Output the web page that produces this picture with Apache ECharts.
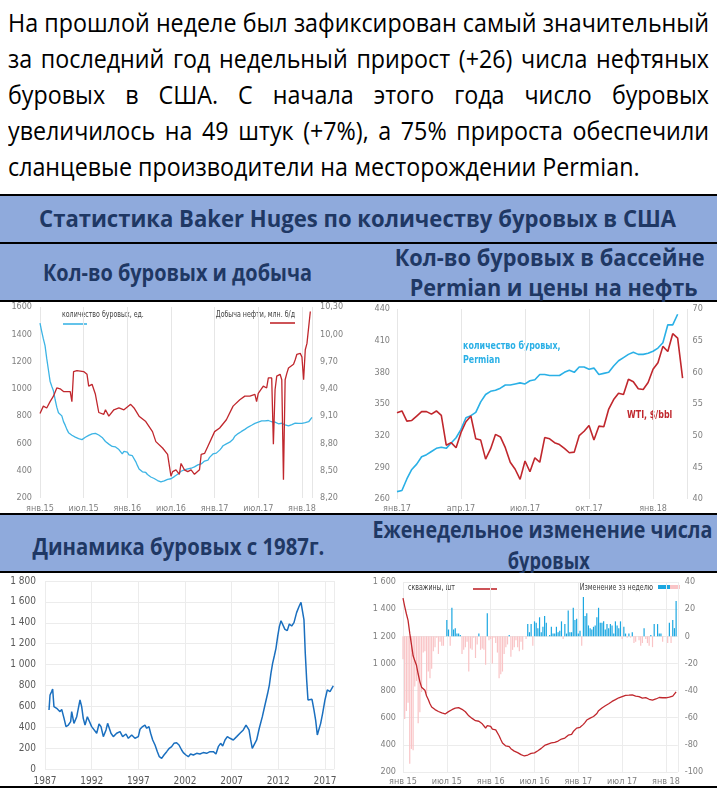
<!DOCTYPE html>
<html><head><meta charset="utf-8">
<script src="https://cdn.jsdelivr.net/npm/echarts@6/dist/echarts.min.js"></script>
<style>
html,body{margin:0;padding:0;background:#fff;}
#page{position:relative;width:717px;height:789px;overflow:hidden;font-family:'Open Sans','Noto Sans',sans-serif;}
.pl{position:absolute;left:8px;width:701px;height:36px;line-height:36px;white-space:nowrap;color:#000;text-align:justify;text-align-last:justify;transform-origin:0 0;font-size:26px;}
.pl.last{text-align:left;text-align-last:left;}
.rule{position:absolute;left:0;width:717px;height:2px;background:#000;}
.band{position:absolute;left:0;width:717px;background:#8faadc;}
.hd{position:absolute;white-space:nowrap;color:#1f3864;font-weight:bold;line-height:1;font-size:23px;transform-origin:50% 50%;}
.chart{position:absolute;background:#fff;}
</style></head><body>
<div id="page">
  <div class="pl" style="top:4px">На прошлой неделе был зафиксирован самый значительный</div>
  <div class="pl" style="top:40px">за последний год недельный прирост (+26) числа нефтяных</div>
  <div class="pl" style="top:76px">буровых в США. С начала этого года число буровых</div>
  <div class="pl" style="top:112px">увеличилось на 49 штук (+7%), а 75% прироста обеспечили</div>
  <div class="pl last" style="top:148px">сланцевые производители на месторождении Permian.</div>

  <div class="rule" style="top:194px"></div>
  <div class="band" style="top:196px;height:46px"></div>
  <div class="rule" style="top:242px"></div>
  <div class="band" style="top:244px;height:56px"></div>
  <div class="rule" style="top:300px"></div>
  <div class="rule" style="top:513px"></div>
  <div class="band" style="top:515px;height:56px"></div>
  <div class="rule" style="top:571px"></div>
  <div class="rule" style="top:786px"></div>

  <div class="hd" data-cx="358" data-cy="219" data-w="637">Статистика Baker Huges по количеству буровых в США</div>
  <div class="hd" data-cx="177" data-cy="273" data-w="269">Кол-во буровых и добыча</div>
  <div class="hd" data-cx="550" data-cy="258" data-w="310">Кол-во буровых в бассейне</div>
  <div class="hd" data-cx="554" data-cy="288" data-w="288">Permian и цены на нефть</div>
  <div class="hd" data-cx="178" data-cy="547" data-w="292">Динамика буровых с 1987г.</div>
  <div class="hd" data-cx="542" data-cy="530" data-w="340">Еженедельное изменение числа</div>
  <div class="hd" data-cx="549" data-cy="561" data-w="82">буровых</div>

  <div class="chart" id="c1" style="left:0;top:302px;width:358px;height:211px"></div>
  <div class="chart" id="c2" style="left:358px;top:302px;width:359px;height:211px"></div>
  <div class="chart" id="c3" style="left:0;top:573px;width:358px;height:213px"></div>
  <div class="chart" id="c4" style="left:358px;top:573px;width:359px;height:213px"></div>
</div>
<script>
// ---------- DATA ----------
// US oil rigs, weekly, 02.01.2015 .. 09.02.2018
const rigWeekly = [1482,1421,1366,1317,1223,1140,1056,1019,986,922,866,825,813,802,760,734,703,679,668,660,659,646,642,635,628,628,640,645,638,659,664,670,672,674,675,662,652,644,640,614,605,595,594,578,572,574,564,555,545,524,541,538,536,
516,515,510,498,467,439,413,400,392,386,387,372,362,354,351,343,332,328,318,318,316,325,328,337,330,341,351,357,371,374,381,396,406,406,407,414,416,418,425,428,432,443,441,450,452,471,474,477,498,510,523,525,
529,522,551,566,583,591,597,602,609,617,631,652,662,672,683,688,697,703,712,720,722,733,741,747,758,756,763,765,764,766,765,768,763,759,759,756,749,744,750,748,743,736,737,729,738,738,747,749,751,747,747,747,
742,752,747,759,765,791];
// weekly change of rig count
const weeklyChange = [-17,-61,-55,-49,-94,-83,-84,-37,-33,-64,-56,-41,-12,-11,-42,-26,-31,-24,-11,-8,-1,-13,-4,-7,-7,0,12,5,-7,21,5,6,2,2,1,-13,-10,-8,-4,-26,-9,-10,-1,-16,-6,2,-10,-9,-10,-21,17,-3,-2,
-20,-1,-5,-12,-31,-28,-26,-13,-8,-6,1,-15,-10,-8,-3,-8,-11,-4,-10,0,-2,9,3,9,-7,11,10,6,14,3,7,15,10,0,1,7,2,2,7,3,4,11,-2,9,2,19,3,3,21,12,13,2,
4,-7,29,15,17,8,6,5,7,8,14,21,10,10,11,5,9,6,9,8,2,11,8,6,11,-2,7,2,-1,2,-1,3,-5,-4,0,-3,-7,-5,6,-2,-5,-7,1,-8,9,0,9,2,2,-4,0,0,
-5,10,-5,12,6,26];
// US crude production, mln b/d (week index from 02.01.2015)
const oilWeeks = [0,2,4,6,8,10,12,14,18,19,20,22,26,28,29,31,33,35,38,39,41,44,47,50,54,56,59,63,67,69,73,76,78,79,81,83,84,86,88,90,92,95,96,98,100,101,104,107,108,111,115,119,122,125,128,129,130,133,135,136,138,139,140,141,143,144,145,146,147,148,151,152,153,155,156,157,158,159,160,161];
const oilProd = [9.13,9.21,9.19,9.26,9.32,9.41,9.40,9.37,9.37,9.26,9.59,9.60,9.59,9.56,9.43,9.45,9.34,9.14,9.12,9.17,9.10,9.17,9.19,9.17,9.23,9.19,9.10,9.04,8.93,8.82,8.75,8.68,8.44,8.49,8.51,8.46,8.58,8.51,8.49,8.51,8.46,8.51,8.68,8.69,8.77,8.79,8.93,8.97,8.95,9.06,9.21,9.28,9.32,9.32,9.34,9.26,9.35,9.43,9.41,9.52,9.52,8.79,9.39,9.54,9.56,9.50,8.40,9.50,9.57,9.63,9.67,9.72,9.78,9.79,9.75,9.50,9.83,9.90,9.92,10.25];
// Permian rigs & WTI, weekly from 06.01.2017
const permianRigs = [267,268,279,288,293,300,302,305,308,309,308,313,318,326,337,339,342,352,359,362,363,365,368,368,369,370,369,372,373,378,378,377,377,377,380,382,380,385,385,383,384,378,379,380,386,391,394,397,399,397,397,398,400,403,408,425,425,435];
const wtiPrice = [53.6,53.9,52.3,52.4,53.1,53.8,53.8,53.4,53.9,53.2,48.5,48.9,48.1,50.5,52.2,53.1,49.5,49.3,46.3,47.9,50.2,49.8,48.1,45.8,44.7,43.1,46.0,44.3,46.5,45.8,49.7,49.5,48.9,48.6,48.0,47.3,47.4,50.0,50.7,51.6,49.3,51.5,51.4,54.2,55.7,56.7,56.5,58.9,58.5,57.4,57.3,58.4,60.5,61.5,64.1,63.3,66.1,65.4,59.1];
// Rigs since 1987 (years after 1987.0)
const histT = [0.43,0.54,0.71,0.82,0.96,1.25,1.61,1.79,2.04,2.25,2.5,2.75,2.86,3.1,3.4,3.75,3.93,4.1,4.29,4.54,4.75,5.0,5.18,5.54,5.79,6.0,6.25,6.54,6.71,6.86,7.07,7.32,7.68,8.04,8.32,8.68,8.93,9.29,9.64,10.0,10.18,10.46,10.71,10.9,11.14,11.32,11.54,11.79,12.04,12.25,12.5,12.75,13.04,13.32,13.57,13.82,14.1,14.36,14.64,14.82,15.1,15.36,15.6,15.9,16.25,16.6,16.96,17.32,17.68,18.04,18.32,18.57,18.82,19.04,19.29,19.54,19.82,20.18,20.54,20.89,21.25,21.54,21.68,21.86,22.04,22.21,22.39,22.68,22.96,23.29,23.57,23.86,24.04,24.21,24.39,24.57,24.75,24.93,25.11,25.29,25.46,25.71,25.96,26.18,26.43,26.68,26.96,27.21,27.43,27.61,27.75,27.89,28.04,28.18,28.39,28.61,28.82,29.0,29.18,29.32,29.54,29.75,30.0,30.25,30.54,30.75,30.89];
const histRigs = [565,709,741,766,597,581,549,571,485,406,421,453,549,437,501,661,597,485,421,501,485,406,390,342,431,406,310,374,437,453,342,310,342,358,310,335,294,326,294,310,380,406,421,390,406,342,278,230,166,118,102,134,166,198,214,246,252,230,182,157,134,118,144,134,150,144,157,150,166,166,144,214,246,220,278,310,294,278,310,342,374,421,437,374,278,198,182,278,390,501,613,725,804,916,1012,1082,1155,1267,1363,1420,1411,1337,1325,1388,1369,1401,1497,1554,1596,1586,1427,1108,852,661,645,667,565,469,326,342,437,533,661,757,741,750,795];
// tick labels
const labels1 = ['янв.15','июл.15','янв.16','июл.16','янв.17','июл.17','янв.18'];
const labels2 = ['янв.17','апр.17','июл.17','окт.17','янв.18'];
const labels4 = ['янв 15','июл 15','янв 16','июл 16','янв 17','июл 17','янв 18'];
const baseYear = 1987;

// ---------- TEXT FITTING ----------
const meas = document.createElement('span');
meas.style.cssText = "position:absolute;visibility:hidden;white-space:nowrap;left:0;top:0;font-family:'Open Sans','Noto Sans',sans-serif";
document.body.appendChild(meas);
function natural(t, size, w){ meas.style.fontSize = size + 'px'; meas.style.fontWeight = w || 'normal'; meas.textContent = t; return meas.getBoundingClientRect().width; }
const pls = document.querySelectorAll('.pl');
let ps = 668 / natural(pls[4].textContent, 26);
for (let i = 0; i < 4; i++) ps = Math.min(ps, 700 / natural(pls[i].textContent, 26));
pls.forEach(p => { p.style.width = (701 / ps) + 'px'; p.style.transform = 'scaleX(' + ps + ')'; });
document.querySelectorAll('.hd').forEach(h => {
  const w = natural(h.textContent, 23, 'bold');
  const s = (+h.dataset.w) / w;
  h.style.left = (+h.dataset.cx - w / 2) + 'px';
  h.style.top = (+h.dataset.cy - 12) + 'px';
  h.style.transform = 'scaleX(' + s + ')';
});

// ---------- CHARTS ----------
const FAM = "'DejaVu Sans Condensed','DejaVu Sans',sans-serif";
const AX = '#7f7f7f';
const RED = '#c0272d';
const fmtSp = v => String(v).replace(/\B(?=(\d{3})+(?!\d))/g, ' ');
const noLine = {show:false};
function lbl(extra){ return Object.assign({color:AX, fontSize:9, fontFamily:FAM}, extra); }
function txt(x, y, text, o, sx){ return {type:'text', x:x, y:y, scaleX:sx || 0.82, silent:true, style:Object.assign({text:text, x:0, y:0, fill:'#404040', fontSize:8.5, fontFamily:FAM, align:'left', verticalAlign:'middle'}, o||{})}; }
function seg(x1, x2, y, c){ return {type:'line', silent:true, shape:{x1:x1, y1:y, x2:x2, y2:y}, style:{stroke:c, lineWidth:1.6}}; }

// Chart 1
echarts.init(document.getElementById('c1')).setOption({
  animation:false,
  grid:{left:40, right:46, top:5, bottom:15},
  xAxis:{type:'value', min:0, max:162, interval:26, axisLine:noLine, axisTick:noLine,
    splitLine:{show:true, lineStyle:{color:'#e6e6e6'}},
    axisLabel:lbl({margin:6, formatter:v => labels1[Math.round(v/26)] || ''})},
  yAxis:[
    {type:'value', min:200, max:1600, interval:200, axisLine:noLine, axisTick:noLine, splitLine:noLine, axisLabel:lbl({margin:8, formatter:v => String(v)})},
    {type:'value', min:8.2, max:10.3, interval:0.1, position:'right', axisLine:noLine, axisTick:noLine, splitLine:noLine,
      axisLabel:lbl({margin:8, formatter:v => (Math.round((v-8.2)*10) % 3 === 0) ? v.toFixed(2).replace('.', ',') : ''})}
  ],
  series:[
    {type:'line', yAxisIndex:0, symbol:'none', data:rigWeekly.map((v,i)=>[i,v]), lineStyle:{color:'#3cb4e5', width:1.3}, itemStyle:{color:'#3cb4e5'}},
    {type:'line', yAxisIndex:1, symbol:'none', data:oilWeeks.map((w,i)=>[w,oilProd[i]]), lineStyle:{color:RED, width:1.3}, itemStyle:{color:RED}}
  ],
  graphic:[
    txt(62, 13, 'количество буровых, ед.'),
    seg(63, 87, 22, '#3cb4e5'),
    txt(295, 13, 'Добыча нефти, млн. б/д', {align:'right'}),
    seg(270, 295, 21, RED)
  ]
});

// Chart 2
echarts.init(document.getElementById('c2')).setOption({
  animation:false,
  grid:{left:39, right:29.5, top:7, bottom:13},
  xAxis:{type:'value', min:0, max:59, interval:13, axisLine:noLine, axisTick:noLine,
    splitLine:{show:true, lineStyle:{color:'#e6e6e6'}},
    axisLabel:lbl({margin:5, formatter:v => labels2[Math.round(v/13)] || ''})},
  yAxis:[
    {type:'value', min:260, max:440, interval:10, axisLine:noLine, axisTick:noLine, splitLine:noLine,
      axisLabel:lbl({margin:7, formatter:v => (Math.round(v-260) % 30 === 0) ? String(Math.round(v)) : ''})},
    {type:'value', min:40, max:70, interval:5, position:'right', axisLine:noLine, axisTick:noLine, splitLine:noLine, axisLabel:lbl({margin:5})}
  ],
  series:[
    {type:'line', yAxisIndex:0, symbol:'none', data:permianRigs.map((v,i)=>[i,v]), lineStyle:{color:'#2ab0e6', width:1.6}, itemStyle:{color:'#2ab0e6'}},
    {type:'line', yAxisIndex:1, symbol:'none', data:wtiPrice.map((v,i)=>[i,v]), lineStyle:{color:RED, width:1.6}, itemStyle:{color:RED}}
  ],
  graphic:[
    txt(105, 44, 'количество буровых,', {fill:'#2ab0e6', fontSize:11, fontWeight:'bold'}, 0.8),
    txt(105, 58, 'Permian', {fill:'#2ab0e6', fontSize:11, fontWeight:'bold'}, 0.8),
    txt(269, 113, 'WTI, $/bbl', {fill:RED, fontSize:11, fontWeight:'bold'}, 0.8)
  ]
});

// Chart 3
echarts.init(document.getElementById('c3')).setOption({
  animation:false,
  grid:{left:45, right:23.7, top:8, bottom:17},
  xAxis:{type:'value', min:0, max:31, interval:5, axisLine:noLine, axisTick:noLine,
    splitLine:{show:true, lineStyle:{color:'#ececec'}},
    axisLabel:lbl({color:'#595959', fontSize:10, margin:7, formatter:v => String(baseYear + Math.round(v))})},
  yAxis:{type:'value', min:0, max:1800, interval:200, axisLine:noLine, axisTick:noLine,
    splitLine:{show:true, lineStyle:{color:'#ececec'}},
    axisLabel:lbl({color:'#595959', fontSize:10, margin:9, formatter:fmtSp})},
  series:[{type:'line', symbol:'none', data:histT.map((t,i)=>[t,histRigs[i]]), lineStyle:{color:'#1a6fbf', width:1.5}, itemStyle:{color:'#1a6fbf'}}]
});

// Chart 4
echarts.init(document.getElementById('c4')).setOption({
  animation:false,
  grid:{left:45, right:39.2, top:9, bottom:14},
  xAxis:{type:'value', min:0, max:163, interval:26, axisLine:noLine, axisTick:noLine,
    splitLine:{show:true, lineStyle:{color:'#ececec'}},
    axisLabel:lbl({margin:5, formatter:v => labels4[Math.round(v/26)] || ''})},
  yAxis:[
    {type:'value', min:200, max:1600, interval:200, axisLine:noLine, axisTick:noLine,
      splitLine:{show:true, lineStyle:{color:'#ececec'}}, axisLabel:lbl({margin:7, formatter:fmtSp})},
    {type:'value', min:-100, max:40, interval:20, position:'right', axisLine:noLine, axisTick:noLine, splitLine:noLine, axisLabel:lbl({margin:7})}
  ],
  series:[
    {type:'bar', yAxisIndex:1, barWidth:1.2, clip:false, z:1,
      data:weeklyChange.map((v,i)=>({value:[i,v], itemStyle:{color: v >= 0 ? '#1ba7e1' : '#f9c4c6'}}))},
    {type:'line', yAxisIndex:0, symbol:'none', z:3, data:rigWeekly.map((v,i)=>[i,v]), lineStyle:{color:RED, width:1.3}, itemStyle:{color:RED}}
  ],
  graphic:[
    txt(50, 15, 'скважины, шт'),
    seg(115, 139, 16, RED),
    txt(295, 15, 'Изменение за неделю', {align:'right'}),
    {type:'rect', silent:true, shape:{x:300, y:12, width:12, height:4}, style:{fill:'#1ba7e1'}},
    {type:'rect', silent:true, shape:{x:312, y:12, width:10, height:4}, style:{fill:'#f9c4c6'}}
  ]
});
</script>
</body></html>
